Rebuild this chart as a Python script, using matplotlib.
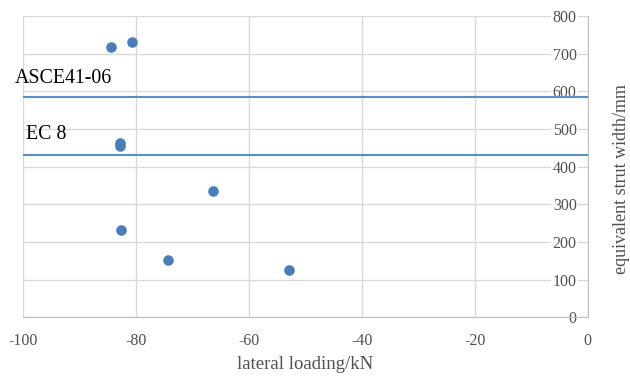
import matplotlib.pyplot as plt

# lateral loading (kN) vs equivalent strut width (mm)
loading = [-84.4, -80.6, -82.8, -82.8, -66.3, -82.6, -74.3, -52.8]
width = [717, 732, 463, 455, 334, 232, 151, 125]

# code values
code_names = ["ASCE41-06", "EC 8"]
code_values = [586, 431]

xticks = [-100, -80, -60, -40, -20, 0]
yticks = [0, 100, 200, 300, 400, 500, 600, 700, 800]

plt.rcParams['font.family'] = ['Liberation Serif', 'DejaVu Serif']
plt.rcParams['axes.unicode_minus'] = False

fig = plt.figure(figsize=(6.3, 3.79), dpi=100)
ax = fig.add_axes([0.036, 0.163, 0.897, 0.795])

ax.scatter(loading, width, s=58, color='#4a7ebb', zorder=3, linewidths=0)

for name, val in zip(code_names, code_values):
    ax.axhline(val, color='#5b8dc0', linewidth=1.5, zorder=2)

ax.text(-101.4, 635, code_names[0], fontsize=14.3, va='center', ha='left', clip_on=False)
ax.text(-99.4, 484, code_names[1], fontsize=14.3, va='center', ha='left', clip_on=False)

ax.set_xlim(-100, 0)
ax.set_ylim(0, 800)
ax.set_xticks(xticks)
ax.set_yticks(yticks)
ax.grid(True, color='#d9d9d9', linewidth=1)
ax.set_axisbelow(True)

for s in ['top', 'left']:
    ax.spines[s].set_visible(False)
for s in ['bottom', 'right']:
    ax.spines[s].set_color('#bfbfbf')

ax.yaxis.tick_right()
ax.tick_params(axis='y', length=0, pad=-8, labelsize=11.5, labelcolor='#505050')
ax.tick_params(axis='x', length=0, pad=11, labelsize=11.5, labelcolor='#505050')
for lab in ax.get_yticklabels():
    lab.set_horizontalalignment('right')
    lab.set_bbox(dict(facecolor='white', edgecolor='none', pad=1))

ax.set_xlabel("lateral loading/kN", fontsize=13.5, color='#505050')
ax.xaxis.set_label_coords(0.5, -0.128)
ax.yaxis.set_label_position('right')
ax.set_ylabel("equivalent strut width/mm", fontsize=13, color='#505050', rotation=90)
ax.yaxis.set_label_coords(1.044, 0.46)

fig.savefig("out.png", dpi=100)
